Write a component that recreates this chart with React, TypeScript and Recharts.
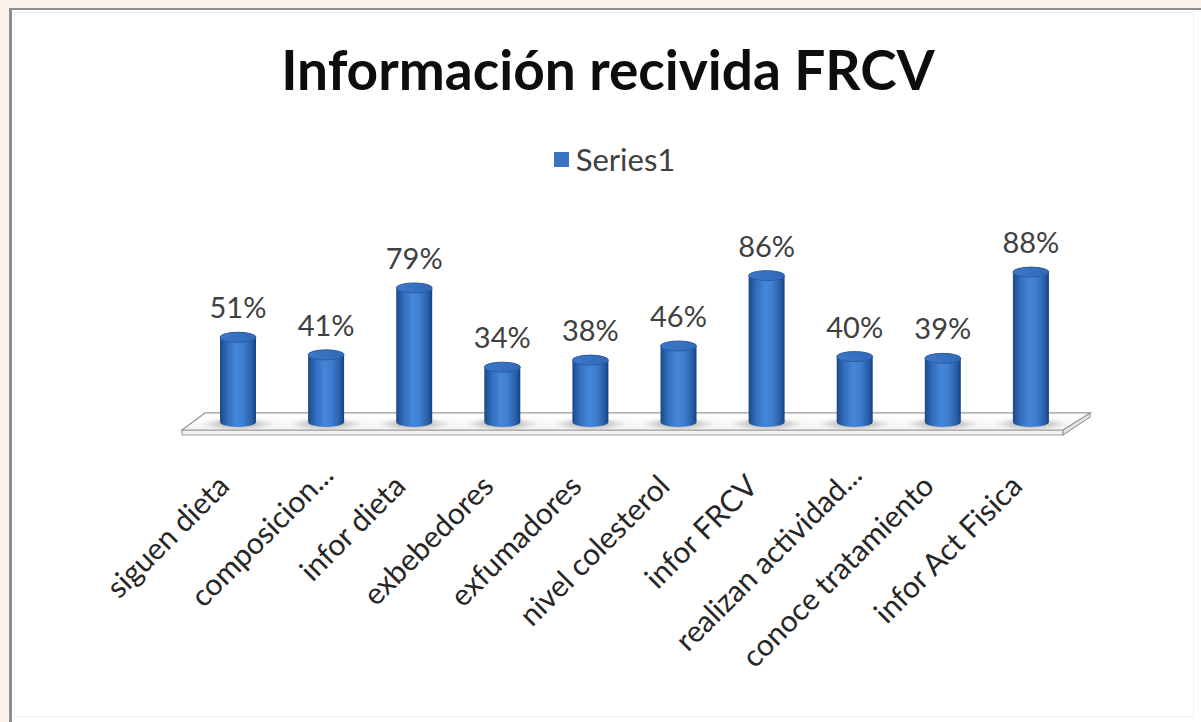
import React from 'react';
import { BarChart, Bar, XAxis, YAxis, LabelList, ReferenceArea, Legend } from 'recharts';

const categories = [
  'siguen dieta',
  'composicion...',
  'infor dieta',
  'exbebedores',
  'exfumadores',
  'nivel colesterol',
  'infor FRCV',
  'realizan actividad...',
  'conoce tratamiento',
  'infor Act Fisica',
];
const values = [51, 41, 79, 34, 38, 46, 86, 40, 39, 88];
const seriesName = 'Series1';
const title = 'Información recivida FRCV';

const data = categories.map((c, i) => ({ name: c, value: values[i] }));

const FONT = 'Lato, "Open Sans", sans-serif';
const W = 1201;
const H = 722;

const Cylinder = (props: any) => {
  const { x, y, width, height } = props;
  if (width == null || height == null) return null;
  const rx = width / 2;
  const ry = 5;
  const cx = x + rx;
  const yb = y + height - 5;
  return (
    <g>
      <ellipse cx={cx} cy={yb + 2} rx={width * 1.05} ry={7} fill="url(#floorShadow)" />
      <path
        d={`M ${x} ${y} L ${x} ${yb} A ${rx} ${ry} 0 0 0 ${x + width} ${yb} L ${x + width} ${y} Z`}
        fill="url(#cylBody)"
      />
      <ellipse cx={cx} cy={y} rx={rx} ry={ry} fill="url(#cylTop)" stroke="#2a5ea6" strokeWidth={1} />
    </g>
  );
};

const Floor = (props: any) => {
  const { x, y, width, height } = props;
  if (x == null) return null;
  const yBack = y;
  const yFront = y + height + 3;
  const yFrontB = yFront + 5;
  const lb = x + 11;
  const lf = x - 12;
  const rb = x + width + 15;
  const rf = x + width - 12;
  return (
    <g>
      <path
        d={`M ${lf} ${yFront} L ${rf} ${yFront} L ${rf} ${yFrontB} L ${lf} ${yFrontB} Z`}
        fill="#f2f2f2"
        stroke="#9a9a9a"
        strokeWidth={1.2}
      />
      <path
        d={`M ${rf} ${yFront} L ${rb} ${yBack} L ${rb} ${yBack + 4} L ${rf} ${yFrontB} Z`}
        fill="#e8e8e8"
        stroke="#9a9a9a"
        strokeWidth={1.2}
      />
      <path
        d={`M ${lb} ${yBack} L ${rb} ${yBack} L ${rf} ${yFront} L ${lf} ${yFront} Z`}
        fill="url(#floorTop)"
        stroke="#9a9a9a"
        strokeWidth={1.2}
      />
    </g>
  );
};

const XTick = (props: any) => {
  const { x, y, payload } = props;
  const label: string = payload.value;
  const trunc = label.endsWith('...');
  const ax = x - 7 + (trunc ? 16 : 0);
  const ay = y + 61 + (trunc ? -11 : 0);
  return (
    <text
      x={ax}
      y={ay}
      textAnchor="end"
      transform={`rotate(-45, ${ax}, ${ay})`}
      fill="#262626"
      fontSize={30}
      fontFamily={FONT}
    >
      {label}
    </text>
  );
};

const ValueLabel = (props: any) => {
  const { x, y, width, value } = props;
  return (
    <text
      x={x + width / 2}
      y={y - 19}
      textAnchor="middle"
      fill="#404040"
      fontSize={29}
      fontFamily={FONT}
    >
      {`${value}%`}
    </text>
  );
};

const LegendContent = () => (
  <div
    style={{
      display: 'flex',
      justifyContent: 'center',
      alignItems: 'center',
      width: W,
      fontFamily: FONT,
    }}
  >
    <div style={{ display: 'flex', alignItems: 'center', marginLeft: 28 }}>
      <span style={{ display: 'inline-block', width: 15, height: 15, background: '#3a73c2', marginRight: 7 }} />
      <span style={{ fontSize: 31, color: '#404040', lineHeight: '36px' }}>{seriesName}</span>
    </div>
  </div>
);

export default function App() {
  return (
    <div style={{ position: 'fixed', left: 0, top: 0, width: W, height: H, background: '#fdf3ea', overflow: 'hidden' }}>
      <svg width={0} height={0} style={{ position: 'absolute' }}>
        <defs>
          <linearGradient id="cylBody" x1="0" y1="0" x2="1" y2="0">
            <stop offset="0%" stopColor="#1c4988" />
            <stop offset="20%" stopColor="#316cbb" />
            <stop offset="45%" stopColor="#4587d8" />
            <stop offset="65%" stopColor="#3e7ed0" />
            <stop offset="88%" stopColor="#295ea8" />
            <stop offset="100%" stopColor="#18407c" />
          </linearGradient>
          <linearGradient id="cylTop" x1="0" y1="0" x2="1" y2="0">
            <stop offset="0%" stopColor="#3d78c8" />
            <stop offset="100%" stopColor="#3069b6" />
          </linearGradient>
          <linearGradient id="floorTop" x1="0" y1="0" x2="0" y2="1">
            <stop offset="0%" stopColor="#ffffff" />
            <stop offset="100%" stopColor="#f3f3f3" />
          </linearGradient>
          <radialGradient id="floorShadow" cx="0.5" cy="0.5" r="0.5">
            <stop offset="0%" stopColor="#7a7a7a" stopOpacity={0.75} />
            <stop offset="60%" stopColor="#9a9a9a" stopOpacity={0.35} />
            <stop offset="100%" stopColor="#bbbbbb" stopOpacity={0} />
          </radialGradient>
        </defs>
      </svg>
      <div
        style={{
          position: 'absolute',
          left: 9,
          top: 8,
          width: W,
          height: H,
          background: '#ffffff',
          borderLeft: '3px solid #8e8e8e',
          borderTop: '2px solid #8e8e8e',
        }}
      />
      <div
        style={{
          position: 'absolute',
          left: 14,
          top: 12,
          width: 1178,
          height: 703,
          border: '1px solid #f0f0f0',
        }}
      />
      <svg width={W} height={H} style={{ position: 'absolute', left: 0, top: 0 }}>
        <text
          x={608}
          y={90}
          textAnchor="middle"
          fontSize={55}
          fontWeight="bold"
          fontFamily={FONT}
          fill="#0d0d0d"
        >
          {title}
        </text>
      </svg>
      <div style={{ position: 'absolute', left: 0, top: 0 }}>
        <BarChart
          width={W}
          height={H}
          data={data}
          margin={{ top: 251, left: 194, right: 126, bottom: 95 }}
        >
          <XAxis
            dataKey="name"
            axisLine={false}
            tickLine={false}
            tickSize={0}
            tickMargin={0}
            height={200}
            interval={0}
            tick={<XTick />}
          />
          <YAxis hide domain={[0, 100]} />
          <Legend
            layout="horizontal"
            verticalAlign="middle"
            align="center"
            wrapperStyle={{ top: 141, left: 0, width: W }}
            content={<LegendContent />}
          />
          <ReferenceArea y1={0} y2={8} ifOverflow="visible" shape={<Floor />} />
          <Bar dataKey="value" name={seriesName} fill="#3a73c2" barSize={36} shape={<Cylinder />} isAnimationActive={false}>
            <LabelList dataKey="value" content={<ValueLabel />} />
          </Bar>
        </BarChart>
      </div>
    </div>
  );
}
